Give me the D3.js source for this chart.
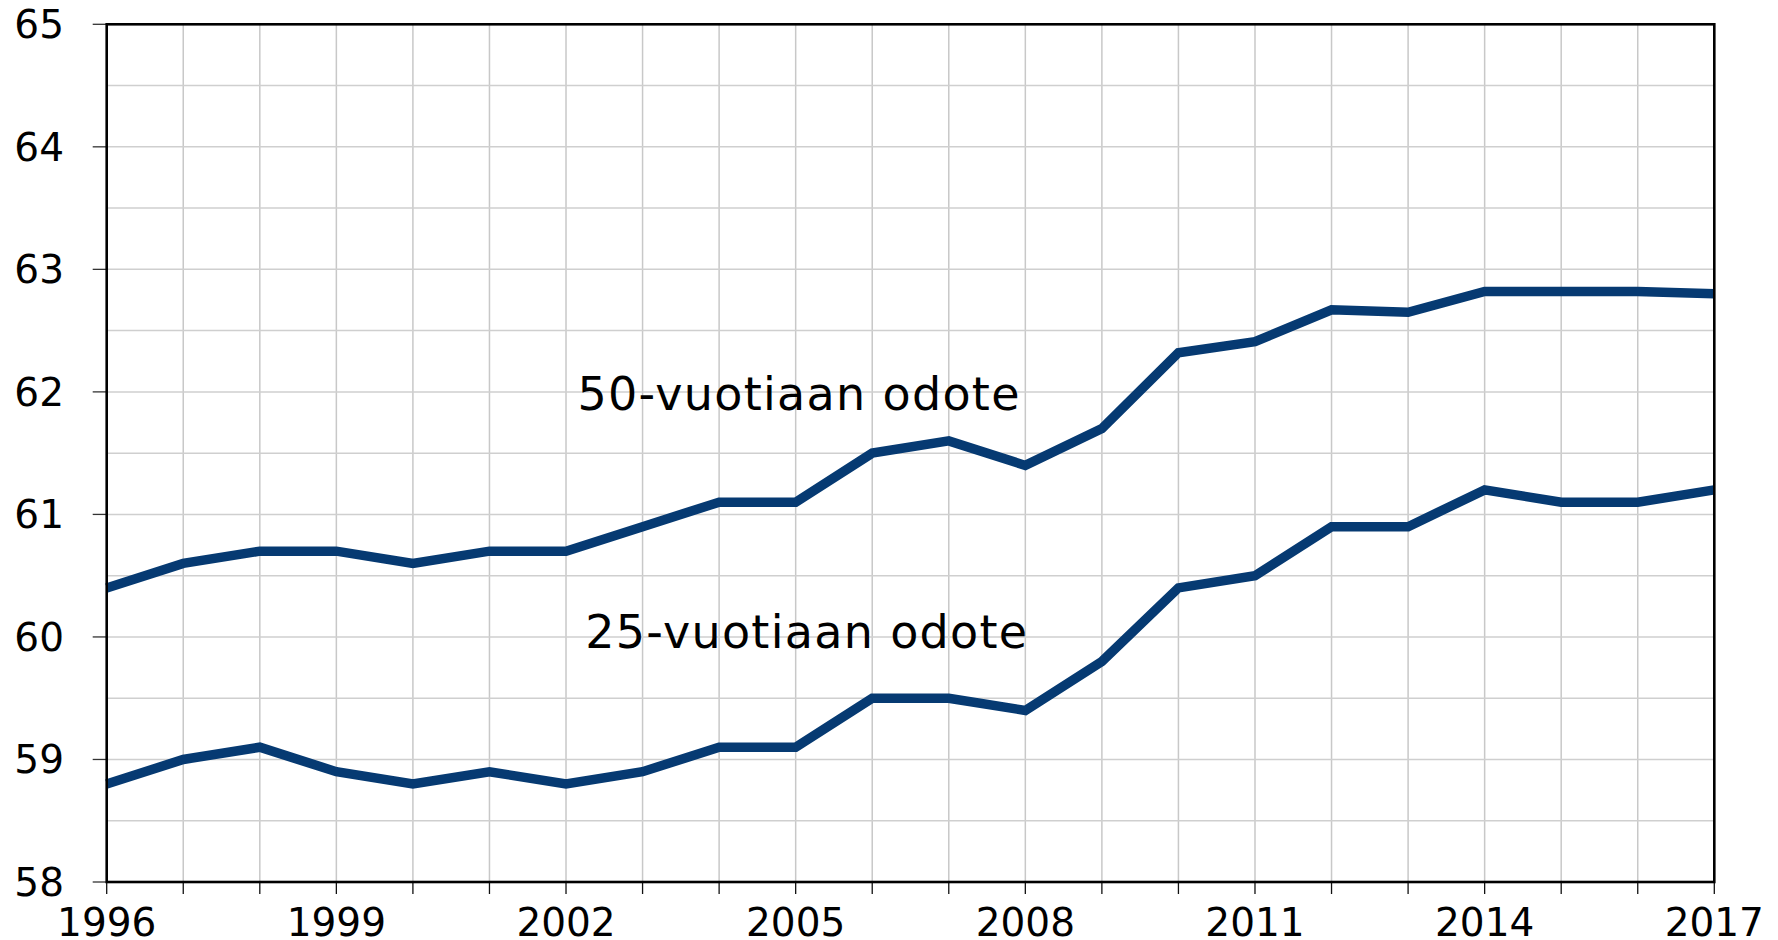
<!DOCTYPE html>
<html>
<head>
<meta charset="utf-8">
<script src="https://cdn.jsdelivr.net/npm/d3@7"></script>
<style>
  html, body { margin: 0; padding: 0; background: #fff; }
  svg { display: block; }
  text { font-family: "DejaVu Sans", Verdana, sans-serif; fill: #000; }
</style>
</head>
<body>
<svg id="chart" width="1778" height="940"></svg>
<script>
const years = [1996,1997,1998,1999,2000,2001,2002,2003,2004,2005,2006,2007,2008,2009,2010,2011,2012,2013,2014,2015,2016,2017];
const odote50 = [60.4,60.6,60.7,60.7,60.6,60.7,60.7,60.9,61.1,61.1,61.5,61.6,61.4,61.7,62.32,62.41,62.67,62.65,62.82,62.82,62.82,62.8];
const odote25 = [58.8,59.0,59.1,58.9,58.8,58.9,58.8,58.9,59.1,59.1,59.5,59.5,59.4,59.8,60.4,60.5,60.9,60.9,61.2,61.1,61.1,61.2];
const yTicks = [58,59,60,61,62,63,64,65];
const yGrid = [58.5,59,59.5,60,60.5,61,61.5,62,62.5,63,63.5,64,64.5];
const xTickLabels = [1996,1999,2002,2005,2008,2011,2014,2017];
const labels = [
  {text: "50-vuotiaan odote", year: 2002.15, value: 61.85},
  {text: "25-vuotiaan odote", year: 2002.25, value: 59.91}
];

const svg = d3.select("#chart");
const L = 106.7, R = 1714.3, T = 24.3, B = 882;
const x = d3.scaleLinear().domain([1996, 2017]).range([L, R]);
const y = d3.scaleLinear().domain([58, 65]).range([B, T]);

// grid
const g = svg.append("g");
g.selectAll(".vg").data(years.slice(1, -1)).enter().append("line")
  .attr("x1", d => x(d)).attr("x2", d => x(d)).attr("y1", T).attr("y2", B)
  .attr("stroke", "#c8c8c8").attr("stroke-width", 1.5);
g.selectAll(".hg").data(yGrid).enter().append("line")
  .attr("x1", L).attr("x2", R).attr("y1", d => y(d)).attr("y2", d => y(d))
  .attr("stroke", "#cfcfcf").attr("stroke-width", 1.5);

// ticks
svg.selectAll(".yt").data(yTicks).enter().append("line")
  .attr("x1", L - 14).attr("x2", L).attr("y1", d => y(d)).attr("y2", d => y(d))
  .attr("stroke", "#333").attr("stroke-width", 1.3);
svg.selectAll(".xt").data(years).enter().append("line")
  .attr("x1", d => x(d)).attr("x2", d => x(d)).attr("y1", B).attr("y2", B + 12)
  .attr("stroke", "#111").attr("stroke-width", 1.3);

// tick labels
svg.selectAll(".yl").data(yTicks).enter().append("text")
  .attr("x", 64).attr("y", d => y(d) + 14)
  .attr("text-anchor", "end").attr("font-size", 39)
  .text(d => d);
svg.selectAll(".xl").data(xTickLabels).enter().append("text")
  .attr("x", d => x(d)).attr("y", 936)
  .attr("text-anchor", "middle").attr("font-size", 39)
  .text(d => d);

// lines
const line = d3.line().x((d, i) => x(years[i])).y(d => y(d));
[odote50, odote25].forEach(s => {
  svg.append("path").datum(s).attr("d", line)
    .attr("fill", "none").attr("stroke", "#063a72")
    .attr("stroke-width", 9.5).attr("stroke-linejoin", "miter");
});

// frame
svg.append("rect").attr("x", L).attr("y", T).attr("width", R - L).attr("height", B - T)
  .attr("fill", "none").attr("stroke", "#000").attr("stroke-width", 2.6);

// annotations
svg.selectAll(".ann").data(labels).enter().append("text")
  .attr("x", d => x(d.year)).attr("y", d => y(d.value))
  .attr("font-size", 46).attr("letter-spacing", 1.3)
  .text(d => d.text);
</script>
</body>
</html>
